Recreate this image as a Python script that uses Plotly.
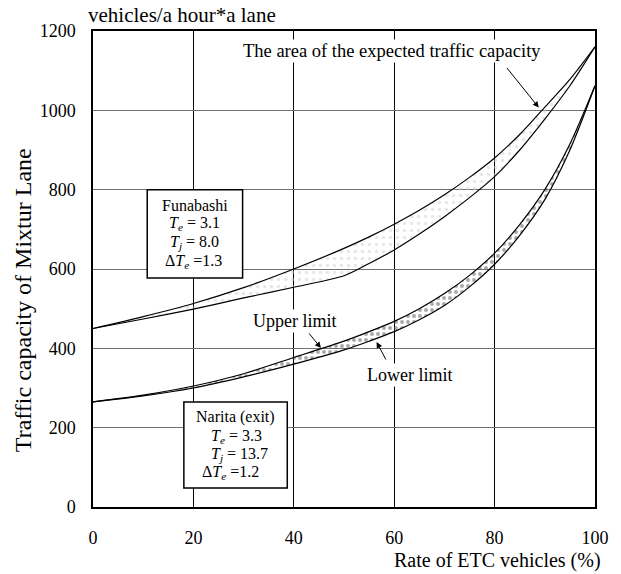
import plotly.graph_objects as go

# ETC share (%) at which each curve is sampled
etc_rate = [0, 10, 20, 30, 40, 50, 55, 60, 65, 70, 75, 80, 85, 90, 95, 100]

# Funabashi: upper and lower bound of the mixed-lane capacity (veh/h/lane)
funabashi_upper = [450, 480, 513, 553, 600, 652, 681, 713, 748, 787, 831, 880, 939, 1008, 1078, 1160]
funabashi_lower = [450, 474, 499, 527, 554, 583, 614, 648, 688, 732, 780, 833, 900, 978, 1062, 1160]

# Narita (exit): upper and lower limit
narita_upper = [265, 282, 305, 336, 377, 418, 442, 468, 500, 538, 584, 640, 712, 800, 915, 1062]
narita_lower = [265, 280, 300, 328, 360, 396, 418, 442, 472, 508, 555, 612, 685, 775, 900, 1062]

x_ticks = [0, 20, 40, 60, 80, 100]
y_ticks = [0, 200, 400, 600, 800, 1000, 1200]

FONT = "Liberation Serif, Times New Roman, serif"
line_style = dict(color="black", width=1.2, shape="spline", smoothing=0.8)

fig = go.Figure()

# Funabashi band (light sparse dots)
fig.add_trace(go.Scatter(x=etc_rate, y=funabashi_lower, mode="lines", line=line_style,
                         showlegend=False, hoverinfo="skip"))
fig.add_trace(go.Scatter(x=etc_rate, y=funabashi_upper, mode="lines", line=line_style,
                         fill="tonexty", fillcolor="rgba(0,0,0,0)",
                         fillpattern=dict(shape=".", fgcolor="#cfcfcf", bgcolor="rgba(0,0,0,0)",
                                          size=7, solidity=0.2),
                         showlegend=False, hoverinfo="skip"))

# Narita band (darker dense dots)
fig.add_trace(go.Scatter(x=etc_rate, y=narita_lower, mode="lines", line=line_style,
                         showlegend=False, hoverinfo="skip"))
fig.add_trace(go.Scatter(x=etc_rate, y=narita_upper, mode="lines", line=line_style,
                         fill="tonexty", fillcolor="rgba(0,0,0,0)",
                         fillpattern=dict(shape=".", fgcolor="#555555", bgcolor="rgba(0,0,0,0)",
                                          size=6, solidity=0.35),
                         showlegend=False, hoverinfo="skip"))

# Parameter boxes
box = dict(type="rect", xref="x", yref="y", layer="above",
           fillcolor="white", line=dict(color="black", width=1.5))
fig.add_shape(x0=10.8, x1=29.8, y0=577, y1=800, **box)
fig.add_shape(x0=18.1, x1=38.7, y0=48, y1=265, **box)

def text(x, y, s, size=16, xanchor="center", yanchor="middle", **kw):
    fig.add_annotation(x=x, y=y, text=s, showarrow=False, xanchor=xanchor, yanchor=yanchor,
                       font=dict(family=FONT, size=size, color="black"), **kw)

Te = "<i>T</i><sub><i>e</i></sub>"
Tj = "<i>T</i><sub><i>j</i></sub>"
dTe = "Δ<i>T</i><sub><i>e</i></sub>"

text(20.3, 759, "Funabashi")
text(20.3, 714, f"{Te} = 3.1")
text(20.3, 667, f"{Tj} = 8.0")
text(20.0, 619, f"{dTe} =1.3")

text(28.4, 227, "Narita (exit)")
text(23.1, 179, f"{Te} = 3.3", xanchor="left")
text(23.1, 132, f"{Tj} = 13.7", xanchor="left")
text(21.4, 87, f"{dTe} =1.2", xanchor="left")

# Callouts
text(59.5, 1150, "The area of the expected traffic capacity", size=18.5, bgcolor="white")
text(40.2, 469, "Upper limit", size=18, bgcolor="white")
text(63.0, 333, "Lower limit", size=18, bgcolor="white")

arrow = dict(showarrow=True, text="", arrowhead=2, arrowsize=1.2, arrowwidth=1,
             arrowcolor="black", axref="pixel", ayref="pixel")
fig.add_annotation(x=88.8, y=1007, ax=-33, ay=-41, **arrow)
fig.add_annotation(x=45.4, y=401, ax=-13, ay=-16, **arrow)
fig.add_annotation(x=56.5, y=416, ax=10, ay=19, **arrow)

# Axis titles and unit label
text(-0.139, 0.435, "Traffic capacity of Mixtur Lane", size=24, xref="paper", yref="paper",
     textangle=-90)
text(0.598, -0.138, "Rate of ETC vehicles (%)", size=20, xref="paper", yref="paper",
     xanchor="left", yanchor="bottom", borderpad=0)
text(-0.0136, 1.034, "vehicles/a hour*a lane", size=21, xref="paper", yref="paper",
     xanchor="left")

fig.update_xaxes(range=[0, 100], tickvals=x_ticks, showgrid=True, gridcolor="black", gridwidth=1,
                 zeroline=False, showline=True, linecolor="black", linewidth=1.5, mirror=True,
                 ticks="", ticklabelstandoff=14,
                 tickfont=dict(family=FONT, size=18, color="black"))
fig.update_yaxes(range=[0, 1200], tickvals=y_ticks, showgrid=True, gridcolor="#707070", gridwidth=1,
                 zeroline=False, showline=True, linecolor="black", linewidth=1.5, mirror=True,
                 ticks="", ticklabelstandoff=12,
                 tickfont=dict(family=FONT, size=18, color="black"))

fig.update_layout(width=621, height=574, margin=dict(l=93, r=15, t=31, b=67),
                  paper_bgcolor="white", plot_bgcolor="white", showlegend=False,
                  font=dict(family=FONT, color="black"))

fig.write_html("out.html")
